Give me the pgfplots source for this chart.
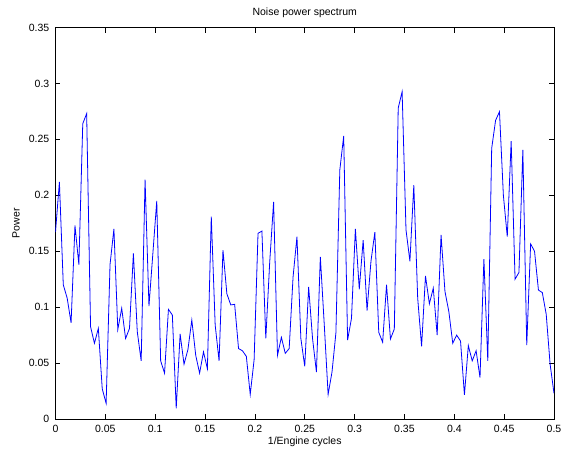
\documentclass[border=0pt]{standalone}
\usepackage{fontspec}
\setmainfont{Liberation Sans}
\usepackage{pgfplots}
\pgfplotsset{compat=1.18}
\pgfplotstableread{
x y
0 0.167
0.00391 0.212
0.00781 0.120
0.01172 0.108
0.01563 0.086
0.01953 0.173
0.02344 0.138
0.02734 0.264
0.03125 0.273
0.03516 0.0825
0.03906 0.0677
0.04297 0.081
0.04688 0.027
0.05078 0.014
0.05469 0.138
0.05859 0.170
0.0625 0.080
0.06641 0.099
0.07031 0.072
0.07422 0.081
0.07813 0.148
0.08203 0.078
0.08594 0.052
0.08984 0.214
0.09375 0.101
0.09766 0.148
0.10156 0.195
0.10547 0.052
0.10938 0.041
0.11328 0.098
0.11719 0.093
0.12109 0.0096
0.125 0.076
0.12891 0.049
0.13281 0.062
0.13672 0.0885
0.14063 0.057
0.14453 0.041
0.14844 0.060
0.15234 0.045
0.15625 0.181
0.16016 0.084
0.16406 0.052
0.16797 0.151
0.17188 0.112
0.17578 0.102
0.17969 0.1025
0.18359 0.063
0.1875 0.061
0.19141 0.056
0.19531 0.022
0.19922 0.053
0.20313 0.166
0.20703 0.168
0.21094 0.072
0.21484 0.140
0.21875 0.194
0.22266 0.057
0.22656 0.073
0.23047 0.0587
0.23438 0.063
0.23828 0.127
0.24219 0.163
0.24609 0.072
0.25 0.047
0.25391 0.118
0.25781 0.072
0.26172 0.042
0.26563 0.145
0.26953 0.085
0.27344 0.022
0.27734 0.042
0.28125 0.077
0.28516 0.2226
0.28906 0.253
0.29297 0.0706
0.29688 0.090
0.30078 0.170
0.30469 0.116
0.30859 0.160
0.3125 0.097
0.31641 0.141
0.32031 0.167
0.32422 0.0775
0.32813 0.0686
0.33203 0.120
0.33594 0.0715
0.33984 0.0805
0.34375 0.278
0.34766 0.2926
0.35156 0.169
0.35547 0.141
0.35938 0.209
0.36328 0.108
0.36719 0.065
0.37109 0.128
0.375 0.103
0.37891 0.117
0.38281 0.075
0.38672 0.1645
0.39063 0.114
0.39453 0.096
0.39844 0.0677
0.40234 0.075
0.40625 0.0697
0.41016 0.0215
0.41406 0.0656
0.41797 0.052
0.42188 0.061
0.42578 0.037
0.42969 0.143
0.43359 0.052
0.4375 0.242
0.44141 0.267
0.44531 0.2747
0.44922 0.200
0.45313 0.163
0.45703 0.2485
0.46094 0.125
0.46484 0.131
0.46875 0.2405
0.47266 0.066
0.47656 0.1565
0.48047 0.150
0.48438 0.1153
0.48828 0.113
0.49219 0.0936
0.49609 0.049
0.5 0.023
}\spectrum
\begin{document}
\begin{tikzpicture}[x=1pt,y=1pt]
\useasboundingbox (-55.5,-29) rectangle (513.5,419);
\begin{axis}[
  at={(0,0)}, anchor=south west,
  scale only axis, width=498.5pt, height=391.5pt,
  xmin=0, xmax=0.5, ymin=0, ymax=0.35,
  xtick={0,0.05,0.1,0.15,0.2,0.25,0.3,0.35,0.4,0.45,0.5},
  ytick={0,0.05,0.1,0.15,0.2,0.25,0.3,0.35},
  xticklabels={0,0.05,0.1,0.15,0.2,0.25,0.3,0.35,0.4,0.45,0.5},
  yticklabels={0,0.05,0.1,0.15,0.2,0.25,0.3,0.35},
  scaled ticks=false,
  tick align=inside, major tick length=5pt,
  tick style={black, line width=0.6pt},
  axis line style={black, line width=0.8pt},
  font=\fontsize{10.5}{12}\selectfont,
  xticklabel style={anchor=base, yshift=-13pt, inner sep=0pt},
  yticklabel style={anchor=east, xshift=-6pt, inner sep=0pt},
  title={Noise power spectrum},
  title style={at={(axis description cs:0.5,1.0153)}, anchor=base, inner sep=0pt},
  xlabel={1/Engine cycles},
  xlabel style={at={(axis description cs:0.5,-0.0639)}, anchor=base, inner sep=0pt},
  ylabel={Power},
  ylabel style={at={(axis description cs:-0.0722,0.5)}, anchor=base, inner sep=0pt},
]
\addplot[blue, line width=0.8pt, mark=none] table[x=x,y=y] {\spectrum};
\end{axis}
\end{tikzpicture}
\end{document}
